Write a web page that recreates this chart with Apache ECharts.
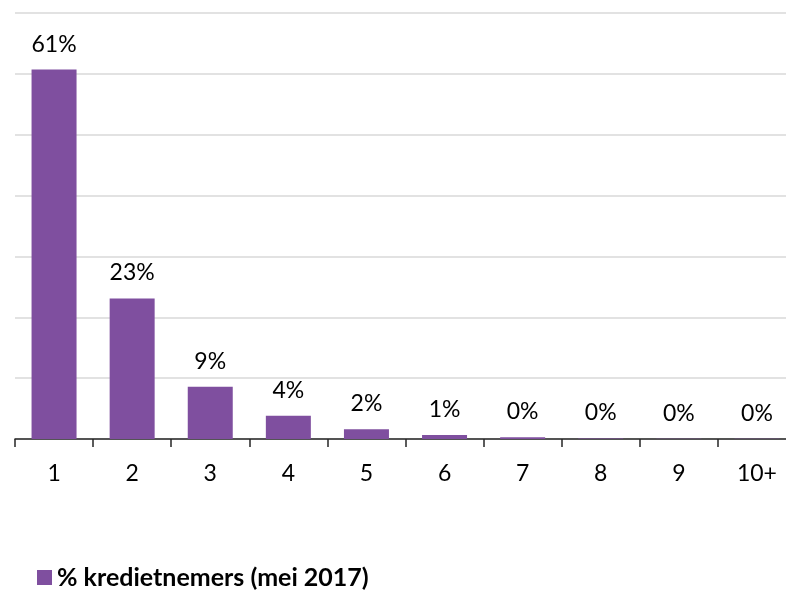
<!DOCTYPE html>
<html>
<head>
<meta charset="utf-8">
<script src="https://cdn.jsdelivr.net/npm/echarts@6/dist/echarts.min.js"></script>
<style>
html,body{margin:0;padding:0;background:#fff;}
#chart{width:786px;height:591px;}
</style>
</head>
<body>
<div id="chart"></div>
<script>
const categories = ['1','2','3','4','5','6','7','8','9','10+'];
const seriesName = '% kredietnemers (mei 2017)';
const values = [60.7, 23.1, 8.6, 3.8, 1.6, 0.65, 0.3, 0.1, 0.05, 0.05];

const chart = echarts.init(document.getElementById('chart'));
chart.setOption({
  animation: false,
  textStyle: { fontFamily: 'Lato' },
  grid: { left: 15, width: 781, top: 13, height: 426, containLabel: false, outerBoundsMode: 'none' },
  legend: {
    left: 32, top: 560,
    itemWidth: 15, itemHeight: 15, itemGap: 10,
    icon: 'rect',
    textStyle: { fontFamily: 'Lato', fontWeight: 'bold', fontSize: 25, color: '#000' },
    data: [seriesName]
  },
  xAxis: {
    type: 'category',
    data: categories,
    axisLine: { lineStyle: { color: '#262626', width: 1.5 } },
    axisTick: { show: true, length: 8, lineStyle: { color: '#262626', width: 1.5 } },
    axisLabel: { color: '#000', fontSize: 23, fontFamily: 'Lato', margin: 23 }
  },
  yAxis: {
    type: 'value',
    min: 0, max: 70, interval: 10,
    axisLabel: { show: false },
    axisLine: { show: false },
    axisTick: { show: false },
    splitLine: { lineStyle: { color: '#d9d9d9', width: 1.5 } }
  },
  series: [{
    name: seriesName,
    type: 'bar',
    data: values,
    barWidth: 45,
    itemStyle: { color: '#7F4F9F' },
    label: {
      show: true, position: 'top', distance: 14,
      color: '#000', fontSize: 23, fontFamily: 'Lato',
      formatter: p => Math.round(p.value) + '%'
    }
  }]
});
</script>
</body>
</html>
